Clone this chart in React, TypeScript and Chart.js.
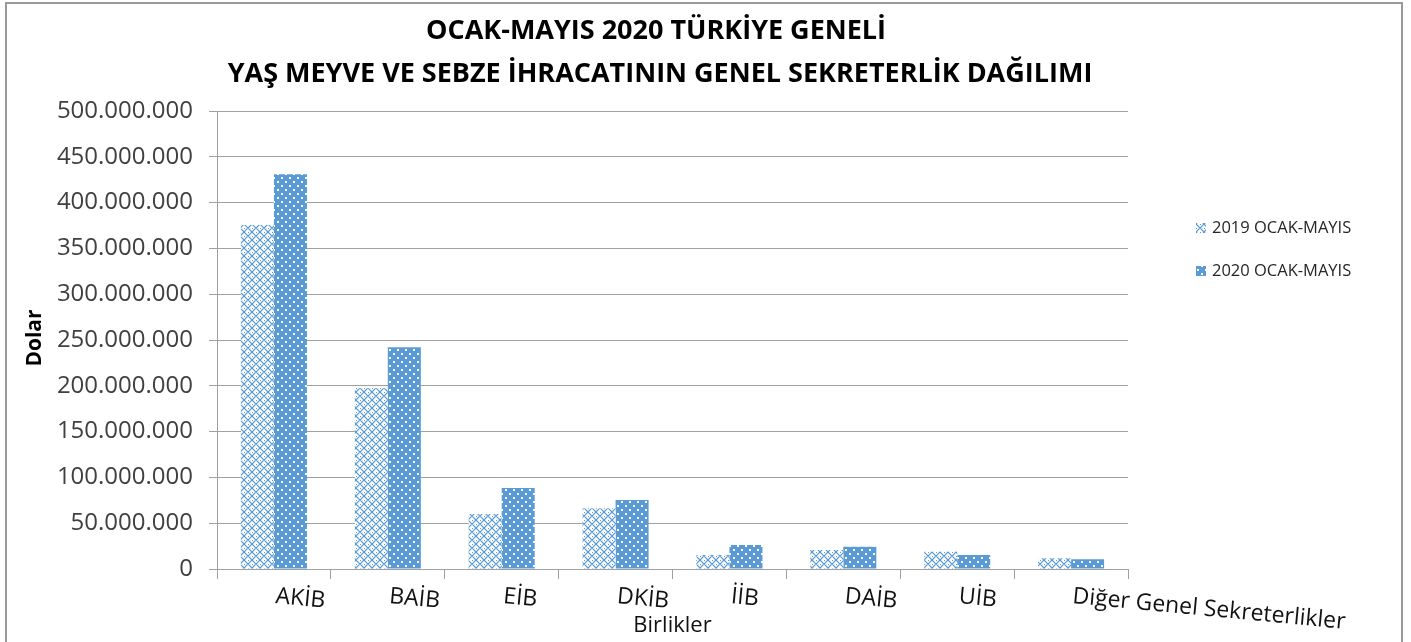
import React, { useEffect, useRef } from 'react';
import { Chart, registerables } from 'chart.js';

Chart.register(...registerables);

const categories = ['AKİB', 'BAİB', 'EİB', 'DKİB', 'İİB', 'DAİB', 'UİB', 'Diğer Genel Sekreterlikler'];
const label2019 = '2019 OCAK-MAYIS';
const label2020 = '2020 OCAK-MAYIS';
const values2019 = [375500000, 197500000, 60000000, 66300000, 15300000, 20700000, 18900000, 11700000];
const values2020 = [431000000, 242000000, 88400000, 75300000, 26200000, 24300000, 15300000, 10600000];
const yMin = 0;
const yMax = 500000000;
const yStep = 50000000;
const titleLines = ['OCAK-MAYIS 2020 TÜRKİYE GENELİ', 'YAŞ MEYVE VE SEBZE İHRACATININ GENEL SEKRETERLİK DAĞILIMI'];
const yAxisTitle = 'Dolar';
const xAxisTitle = 'Birlikler';

const FONT = '"Open Sans", "Noto Sans", sans-serif';
const BLUE = '#5B9BD5';
const GRID = '#a0a0a0';

function fmt(v: number): string {
  return String(Math.round(v)).replace(/\B(?=(\d{3})+(?!\d))/g, '.');
}

function makePattern2019(): CanvasPattern | string {
  const c = document.createElement('canvas');
  c.width = 8;
  c.height = 8;
  const g = c.getContext('2d');
  if (!g) return BLUE;
  g.fillStyle = '#ffffff';
  g.fillRect(0, 0, 8, 8);
  g.strokeStyle = BLUE;
  g.lineWidth = 1.2;
  g.beginPath();
  g.moveTo(0, 4);
  g.lineTo(4, 0);
  g.lineTo(8, 4);
  g.lineTo(4, 8);
  g.closePath();
  g.stroke();
  g.fillStyle = BLUE;
  g.fillRect(0, 0, 1, 1);
  g.fillRect(4, 4, 1, 1);
  const p = g.createPattern(c, 'repeat');
  return p || BLUE;
}

function makePattern2020(): CanvasPattern | string {
  const c = document.createElement('canvas');
  c.width = 8;
  c.height = 8;
  const g = c.getContext('2d');
  if (!g) return BLUE;
  g.fillStyle = BLUE;
  g.fillRect(0, 0, 8, 8);
  g.fillStyle = '#ffffff';
  g.fillRect(1, 1, 2, 2);
  g.fillRect(5, 5, 2, 2);
  const p = g.createPattern(c, 'repeat');
  return p || BLUE;
}

const decorPlugin = {
  id: 'decor',
  beforeDraw(chart: any) {
    const ctx = chart.ctx as CanvasRenderingContext2D;
    ctx.save();
    ctx.fillStyle = '#ffffff';
    ctx.fillRect(0, 0, chart.width, chart.height);
    ctx.strokeStyle = '#9a9a9a';
    ctx.lineWidth = 2;
    ctx.strokeRect(6, 3, 1396, 720);
    ctx.restore();
  },
  afterDraw(chart: any) {
    const ctx = chart.ctx as CanvasRenderingContext2D;
    const area = chart.chartArea;
    const xs = chart.scales.x;
    ctx.save();

    // Title
    ctx.fillStyle = '#000000';
    ctx.textAlign = 'center';
    ctx.textBaseline = 'alphabetic';
    ctx.font = `bold 27px ${FONT}`;
    ctx.fillText(titleLines[0], 656, 39);
    ctx.fillText(titleLines[1], 660, 82);

    // Y axis title
    ctx.save();
    ctx.translate(35, 338);
    ctx.rotate(-Math.PI / 2);
    ctx.font = `bold 21px ${FONT}`;
    ctx.textAlign = 'center';
    ctx.textBaseline = 'middle';
    ctx.fillText(yAxisTitle, 0, 0);
    ctx.restore();

    // X axis title
    ctx.font = `22px ${FONT}`;
    ctx.textAlign = 'center';
    ctx.textBaseline = 'alphabetic';
    ctx.fillStyle = '#111111';
    ctx.fillText(xAxisTitle, (area.left + area.right) / 2, 632);

    // Category labels (slightly rotated)
    ctx.font = `23px ${FONT}`;
    ctx.textAlign = 'left';
    ctx.fillStyle = '#111111';
    const ang = (5.4 * Math.PI) / 180;
    categories.forEach((lab, i) => {
      const x = xs.getPixelForValue(i);
      ctx.save();
      ctx.translate(x + 1, area.bottom + 34);
      ctx.rotate(ang);
      ctx.fillText(lab, 0, 0);
      ctx.restore();
    });

    // Legend
    const ds = chart.data.datasets;
    const legendY = [228, 271];
    ctx.font = `16.5px ${FONT}`;
    ctx.textBaseline = 'middle';
    ctx.textAlign = 'left';
    ds.forEach((d: any, i: number) => {
      const y = legendY[i];
      ctx.fillStyle = d.backgroundColor;
      ctx.fillRect(1196, y - 5, 10, 10);
      ctx.fillStyle = '#262626';
      ctx.fillText(d.label, 1212, y);
    });

    ctx.restore();
  },
};

export default function App() {
  const ref = useRef<HTMLCanvasElement | null>(null);

  useEffect(() => {
    if (!ref.current) return;
    const chart = new Chart(ref.current, {
      type: 'bar',
      data: {
        labels: categories,
        datasets: [
          {
            label: label2019,
            data: values2019,
            backgroundColor: makePattern2019() as any,
            borderWidth: 0,
            categoryPercentage: 0.58,
            barPercentage: 1,
          },
          {
            label: label2020,
            data: values2020,
            backgroundColor: makePattern2020() as any,
            borderWidth: 0,
            categoryPercentage: 0.58,
            barPercentage: 1,
          },
        ],
      },
      options: {
        responsive: false,
        animation: false,
        layout: { padding: { left: 0, right: 283, top: 111, bottom: 0 } },
        plugins: {
          legend: { display: false },
          title: { display: false },
          tooltip: { enabled: false },
        },
        scales: {
          x: {
            grid: {
              display: true,
              offset: true,
              drawOnChartArea: false,
              drawTicks: true,
              tickLength: 10,
              color: GRID,
              lineWidth: 1,
            },
            border: { display: true, color: GRID, width: 1 },
            ticks: { display: false },
            afterFit(scale: any) {
              scale.height = 73;
            },
          },
          y: {
            min: yMin,
            max: yMax,
            grid: {
              display: true,
              drawTicks: true,
              tickLength: 8,
              color: GRID,
              lineWidth: 1,
            },
            border: { display: true, color: GRID, width: 1 },
            ticks: {
              stepSize: yStep,
              padding: 16,
              color: '#404040',
              font: { family: FONT, size: 24 },
              callback: (v: any) => fmt(Number(v)),
            },
            afterFit(scale: any) {
              scale.width = 217;
            },
          },
        },
      },
      plugins: [decorPlugin],
    });
    return () => chart.destroy();
  }, []);

  return (
    <div style={{ position: 'absolute', left: 0, top: 0, width: 1411, height: 642, overflow: 'hidden' }}>
      <canvas ref={ref} width={1411} height={642} style={{ display: 'block', width: 1411, height: 642 }} />
    </div>
  );
}
